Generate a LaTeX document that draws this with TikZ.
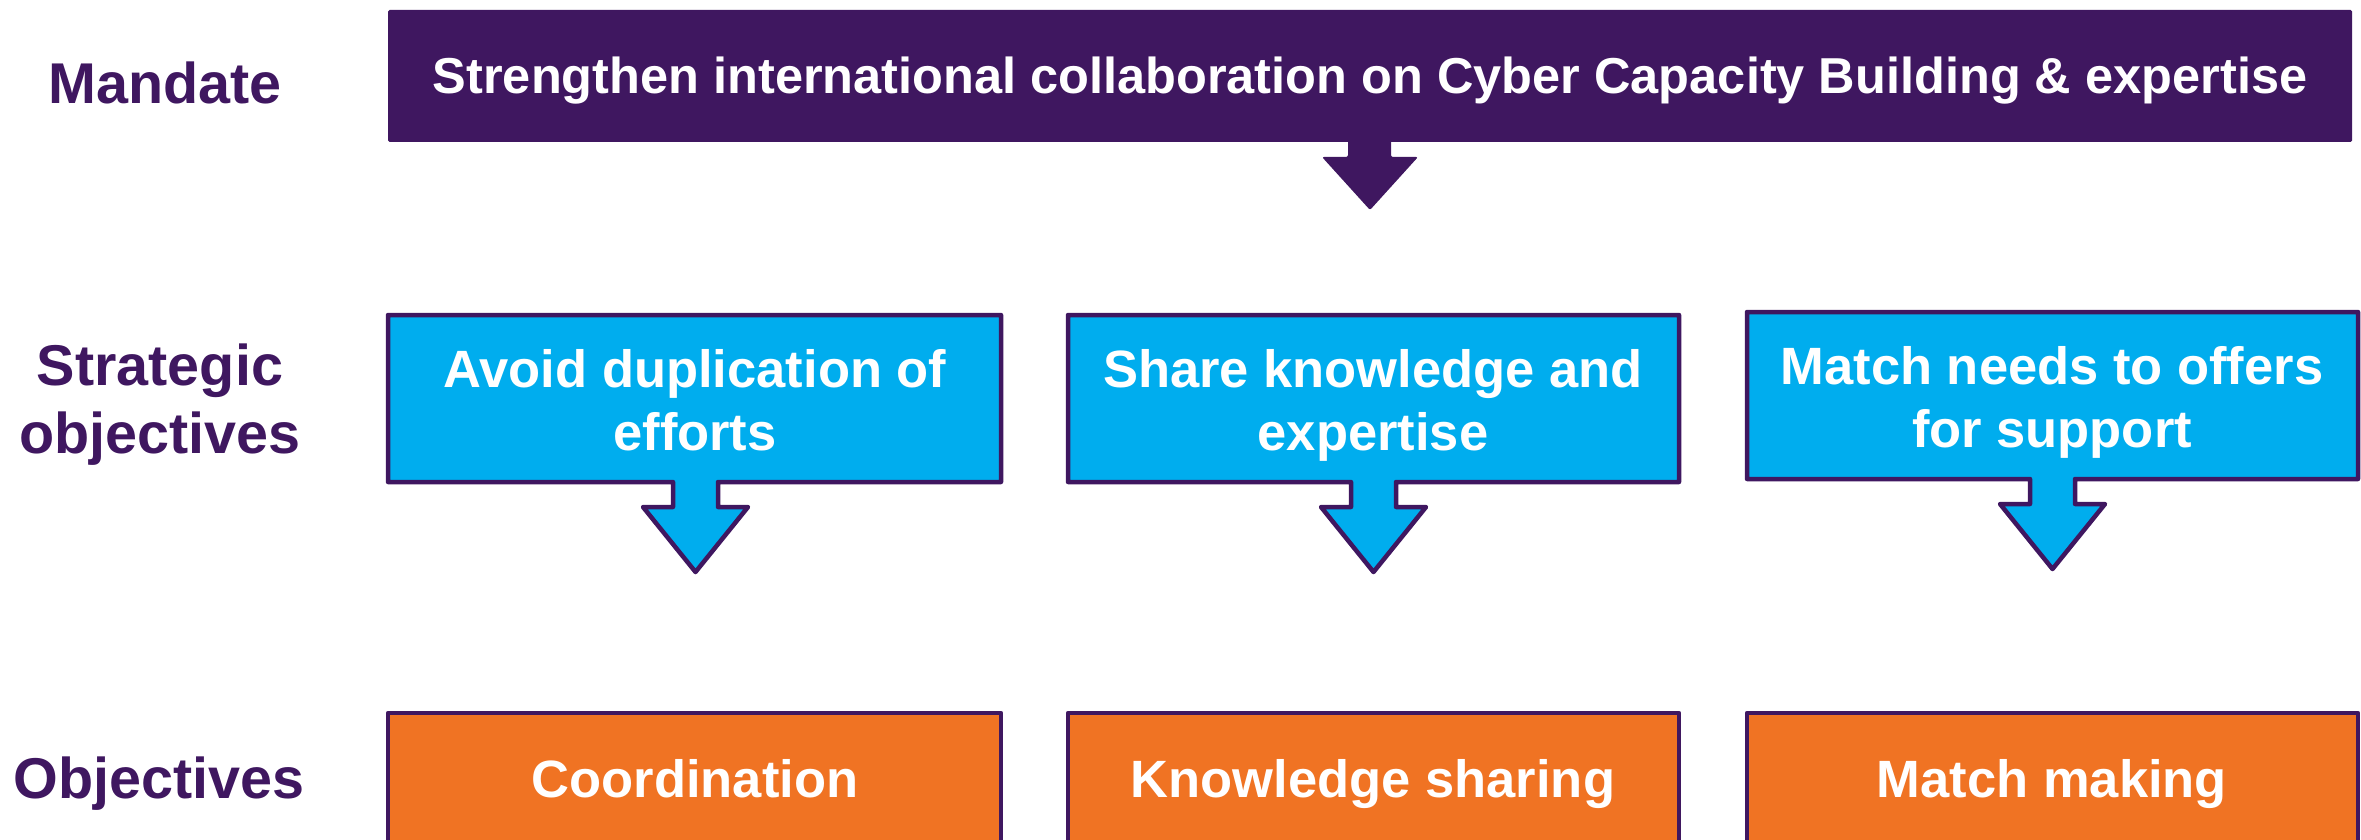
\documentclass[tikz,border=0pt]{standalone}
\usepackage{fontspec}
\setmainfont{Liberation Sans}
\definecolor{cpurple}{HTML}{3F1760}
\definecolor{cblue}{HTML}{00ADEE}
\definecolor{corange}{HTML}{F07323}
\newcommand\mycallout[5]{%
  \draw[callout] (#1,#2) -- (#3,#2) -- (#3,#4) -- ({#5+22.5},#4) -- ({#5+22.5},{#4+25})
    -- ({#5+52.5},{#4+25}) -- (#5,{#4+90}) -- ({#5-52.5},{#4+25}) -- ({#5-22.5},{#4+25})
    -- ({#5-22.5},#4) -- (#1,#4) -- cycle;}
\begin{document}
\begin{tikzpicture}[x=1pt,y=-1pt,
  lbl/.style={text=cpurple,font=\fontsize{57.5}{68}\selectfont\bfseries,align=center},
  boxtxt/.style={text=white,font=\fontsize{52.5}{63}\selectfont\bfseries,align=center},
  toptxt/.style={text=white,font=\fontsize{50.5}{60}\selectfont\bfseries,align=center},
  callout/.style={fill=cblue,draw=cpurple,line width=4.5pt,line join=round},
  objbox/.style={fill=corange,draw=cpurple,line width=4.5pt,line join=round}]
\useasboundingbox (0,0) rectangle (2361,840);
\begin{scope}
\clip (0,0) rectangle (2361,840);
% mandate box and arrow
\fill[cpurple, rounded corners=1.5pt] (388,10) rectangle (2352,142);
\fill[cpurple, rounded corners=2pt] (1348,135) -- (1391,135) -- (1391,157) -- (1418,157)
  -- (1370,210) -- (1322,157) -- (1348,157) -- cycle;
\node[toptxt] (mand) at (1370,81) {Strengthen international collaboration on Cyber Capacity Building \& expertise};
% strategic objectives
\mycallout{388}{315}{1001}{482}{695.5}
\mycallout{1068}{315}{1679}{482}{1373.5}
\mycallout{1747}{312}{2358}{479}{2052.5}
\node[boxtxt] (s1) at (695,400) {Avoid duplication of\\efforts};
\node[boxtxt] (s2) at (1373,405) {Share knowledge and\\expertise};
\node[boxtxt] (s3) at (2052,402) {Match needs to offers\\for support};
% objectives
\draw[objbox] (388,713) rectangle (1001,880);
\draw[objbox] (1068,713) rectangle (1679,880);
\draw[objbox] (1747,713) rectangle (2358,880);
\node[boxtxt,anchor=base] (o1) at (695,797) {Coordination};
\node[boxtxt,anchor=base] (o2) at (1373,797) {Knowledge sharing};
\node[boxtxt,anchor=base] (o3) at (2052,797) {Match making};
% row labels
\node[lbl] (lm) at (165,83) {Mandate};
\node[lbl] (ls) at (160,405) {Strategic\\objectives};
\node[lbl] (lo) at (159,784) {Objectives};
\end{scope}
\end{tikzpicture}
\end{document}
